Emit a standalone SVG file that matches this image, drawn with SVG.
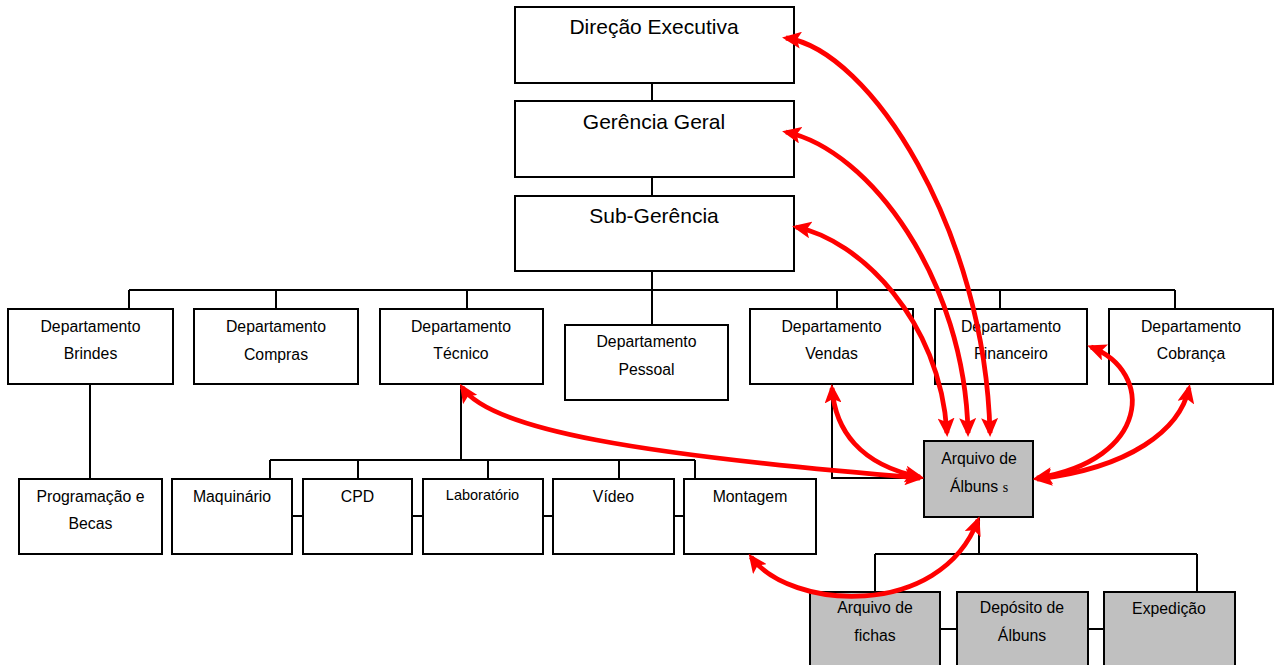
<svg xmlns="http://www.w3.org/2000/svg" width="1277" height="665" viewBox="0 0 1277 665">
  <style>
    .box { fill: #ffffff; stroke: #000000; stroke-width: 2; }
    .grey { fill: #c0c0c0; stroke: #000000; stroke-width: 2; }
    .t { font-family: "Liberation Sans", Arial, sans-serif; font-size: 15.8px; fill: #000000; text-anchor: middle; }
    .big { font-size: 21px; }
    .small { font-size: 14.5px; }
    .line { fill: none; stroke: #000000; stroke-width: 2; }
    .rel { fill: none; stroke: #ff0000; stroke-width: 4.8; marker-start: url(#head); marker-end: url(#head); }
  </style>
  <defs>
    <marker id="head" viewBox="0 0 19 17" markerUnits="userSpaceOnUse" markerWidth="19" markerHeight="17" refX="15" refY="8.5" orient="auto-start-reverse">
      <path d="M0,0 L19,8.5 L0,17 L4,8.5 z" fill="#ff0000"/>
    </marker>
  </defs>
  <rect width="1277" height="665" fill="#ffffff"/>

  <!-- hierarchy lines -->
  <g id="connectors">
    <path class="line" d="M652,83 V101 M652,177 V196 M652,271 V325"/>
    <path class="line" d="M129,290 H1175 M129,290 V309 M276,290 V309 M467,290 V309 M837,290 V309 M1000,290 V309 M1175,290 V309"/>
    <path class="line" d="M90,384 V479"/>
    <path class="line" d="M461,384 V460 M270,460 H695 M270,460 V479 M358,460 V479 M488,460 V479 M619,460 V479 M695,460 V479"/>
    <path class="line" d="M292,516 H303 M412,516 H423 M543,516 H553 M674,516 H684"/>
    <path class="line" d="M832,384 V478 H924"/>
    <path class="line" d="M979,517 V554 M875,554 H1197 M875,554 V592 M1197,554 V592"/>
    <path class="line" d="M940,629 H957 M1088,629 H1104"/>
  </g>

  <g id="direcao-executiva">
    <rect class="box" x="515" y="7" width="279" height="76"/>
    <text class="t big" x="654" y="34">Direção Executiva</text>
  </g>
  <g id="gerencia-geral">
    <rect class="box" x="515" y="101" width="279" height="76"/>
    <text class="t big" x="654" y="129">Gerência Geral</text>
  </g>
  <g id="sub-gerencia">
    <rect class="box" x="515" y="196" width="279" height="75"/>
    <text class="t big" x="654" y="223">Sub-Gerência</text>
  </g>

  <g id="dep-brindes">
    <rect class="box" x="8" y="309" width="165" height="75"/>
    <text class="t" x="90.5" y="332">Departamento</text>
    <text class="t" x="90.5" y="359">Brindes</text>
  </g>
  <g id="dep-compras">
    <rect class="box" x="194" y="309" width="164" height="75"/>
    <text class="t" x="276" y="332">Departamento</text>
    <text class="t" x="276" y="360">Compras</text>
  </g>
  <g id="dep-tecnico">
    <rect class="box" x="380" y="309" width="163" height="75"/>
    <text class="t" x="461" y="332">Departamento</text>
    <text class="t" x="461" y="359">Técnico</text>
  </g>
  <g id="dep-pessoal">
    <rect class="box" x="565" y="325" width="163" height="75"/>
    <text class="t" x="646.5" y="347">Departamento</text>
    <text class="t" x="646.5" y="375">Pessoal</text>
  </g>
  <g id="dep-vendas">
    <rect class="box" x="750" y="309" width="163" height="75"/>
    <text class="t" x="831.5" y="332">Departamento</text>
    <text class="t" x="831.5" y="359">Vendas</text>
  </g>
  <g id="dep-financeiro">
    <rect class="box" x="935" y="309" width="152" height="75"/>
    <text class="t" x="1011" y="332">Departamento</text>
    <text class="t" x="1011" y="359">Financeiro</text>
  </g>
  <g id="dep-cobranca">
    <rect class="box" x="1109" y="309" width="164" height="75"/>
    <text class="t" x="1191" y="332">Departamento</text>
    <text class="t" x="1191" y="359">Cobrança</text>
  </g>

  <g id="programacao-becas">
    <rect class="box" x="19" y="479" width="143" height="75"/>
    <text class="t" x="90.5" y="502">Programação e</text>
    <text class="t" x="90.5" y="529">Becas</text>
  </g>
  <g id="maquinario">
    <rect class="box" x="172" y="479" width="120" height="75"/>
    <text class="t" x="232" y="502">Maquinário</text>
  </g>
  <g id="cpd">
    <rect class="box" x="303" y="479" width="109" height="75"/>
    <text class="t" x="357.5" y="502">CPD</text>
  </g>
  <g id="laboratorio">
    <rect class="box" x="423" y="479" width="120" height="75"/>
    <text class="t small" x="482.5" y="500">Laboratório</text>
  </g>
  <g id="video">
    <rect class="box" x="553" y="479" width="121" height="75"/>
    <text class="t" x="613.5" y="502">Vídeo</text>
  </g>
  <g id="montagem">
    <rect class="box" x="684" y="479" width="132" height="75"/>
    <text class="t" x="750" y="502">Montagem</text>
  </g>

  <g id="arquivo-albuns">
    <rect class="grey" x="924" y="441" width="109" height="76"/>
    <text class="t" x="979" y="464">Arquivo de</text>
    <text class="t" x="979" y="492">Álbuns <tspan font-family="'Liberation Serif', serif" font-size="14px">s</tspan></text>
  </g>
  <g id="arquivo-fichas">
    <rect class="grey" x="810" y="592" width="130" height="90"/>
    <text class="t" x="875" y="613">Arquivo de</text>
    <text class="t" x="875" y="641">fichas</text>
  </g>
  <g id="deposito-albuns">
    <rect class="grey" x="957" y="592" width="131" height="90"/>
    <text class="t" x="1022" y="613">Depósito de</text>
    <text class="t" x="1022" y="641">Álbuns</text>
  </g>
  <g id="expedicao">
    <rect class="grey" x="1104" y="592" width="131" height="90"/>
    <text class="t" x="1169" y="614">Expedição</text>
  </g>

  <!-- two-way relations of the album archive -->
  <g id="relations">
    <path class="rel" d="M786,38 C870,50 985,230 990,433"/>
    <path class="rel" d="M786,132 C870,150 965,280 968,433"/>
    <path class="rel" d="M796,227 C860,240 940,320 947,433"/>
    <path class="rel" d="M462,387 C490,430 640,455 920,478"/>
    <path class="rel" d="M832,388 C835,430 860,465 920,477"/>
    <path class="rel" d="M1091,347 C1155,372 1150,460 1037,478"/>
    <path class="rel" d="M1189,388 C1180,430 1130,468 1037,479"/>
    <path class="rel" d="M751,557 C790,610 940,620 978,520"/>
  </g>
</svg>
